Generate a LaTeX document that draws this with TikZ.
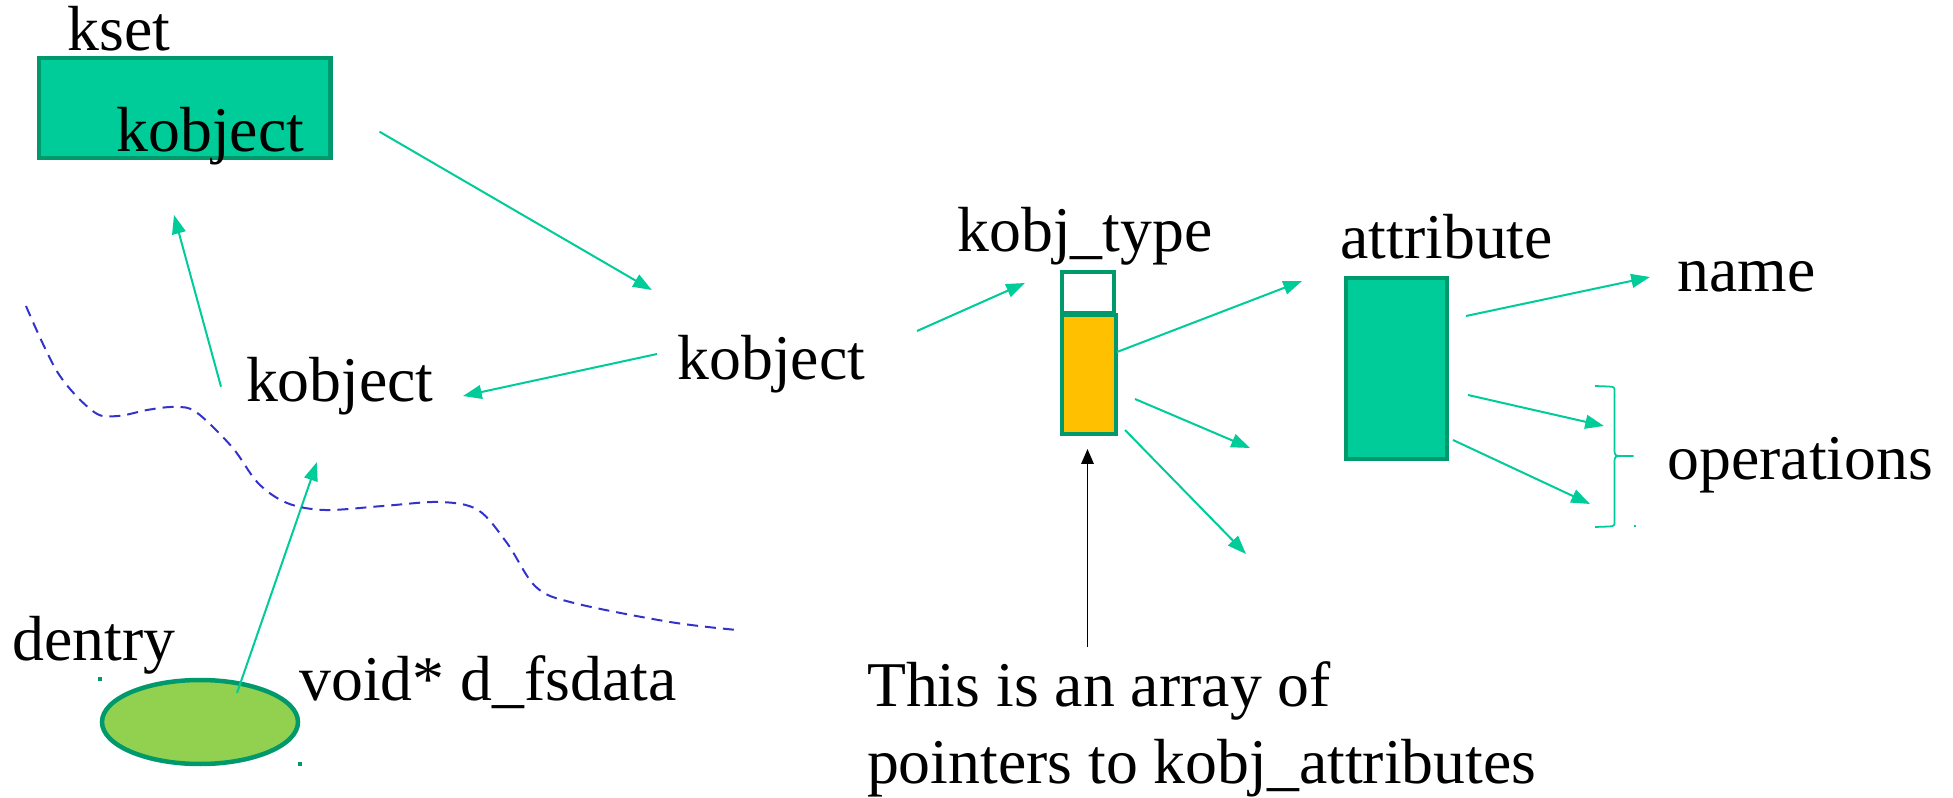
\documentclass[tikz,border=0pt]{standalone}
\usepackage{fontspec}
\setmainfont{Liberation Serif}
\newfontfamily\diagfont{Liberation Serif}
\usetikzlibrary{arrows.meta,shapes.geometric}
\definecolor{tealfill}{RGB}{0,204,153}
\definecolor{tealdark}{RGB}{0,153,108}
\definecolor{orangefill}{RGB}{255,192,0}
\definecolor{lgreen}{RGB}{146,208,80}
\definecolor{dashblue}{RGB}{51,51,204}
\begin{document}
\begin{tikzpicture}[x=0.4pt,y=-0.4pt,
  lbl/.style={anchor=base west,inner sep=0pt,font=\diagfont\fontsize{25.5}{30}\selectfont},
  ptr/.style={draw=tealfill,line width=0.8pt,-{Triangle[length=7.5pt,width=5.5pt]}},
  box/.style={draw=tealdark,line width=1.8pt,inner sep=0pt},
  dotmark/.style={fill=tealdark,inner sep=0pt,minimum size=1.6pt}]
\useasboundingbox (0,0) rectangle (1953,798);

% boxes
\node[box,fill=tealfill,minimum width=116.6pt,minimum height=40pt] (ksetbox) at (184.6,108) {};
\node[box,fill=white,line width=1.6pt,minimum width=20.8pt,minimum height=16.2pt] (typetop) at (1088,292.75) {};
\node[box,fill=orangefill,line width=1.6pt,minimum width=21.6pt,minimum height=47.6pt] (typearr) at (1089,374.5) {};
\node[box,fill=tealfill,minimum width=40.4pt,minimum height=72.4pt] (attrbox) at (1396.5,368.5) {};
\node[box,ellipse,fill=lgreen,minimum width=78.4pt,minimum height=33.6pt] (dentrybox) at (200,722) {};

% labels
\node[lbl] (kset) at (67,50.7) {kset};
\node[lbl] (kobjA) at (116,151.7) {kobject};
\node[lbl] (kobjL) at (245.5,401.7) {kobject};
\node[lbl] (kobjM) at (677,380) {kobject};
\node[lbl] (dentry) at (12,660) {dentry};
\node[lbl] (fsdata) at (299,700) {void* d\_fsdata};
\node[lbl] (kobjtype) at (957,251.7) {kobj\_type};
\node[lbl] (attribute) at (1340,259) {attribute};
\node[lbl] (name) at (1677,291.7) {name};
\node[lbl] (operations) at (1667,480) {operations};
\node[lbl] (note1) at (866.6,706.7) {This is an array of};
\node[lbl] (note2) at (866.6,783) {pointers to kobj\_attributes};

% small marks
\node[dotmark] (m1) at (100,679) {};
\node[dotmark] (m2) at (300,764) {};
\node[fill=tealfill,inner sep=0pt,minimum size=0.8pt] (m3) at (1634.6,526) {};

% connector end points
\coordinate (a1s) at (379.5,131.7); \coordinate (a1e) at (651.8,290);
\coordinate (a2s) at (657,354);     \coordinate (a2e) at (463,396);
\coordinate (a3s) at (221,386.7);   \coordinate (a3e) at (174,215);
\coordinate (a4s) at (237,693);     \coordinate (a4e) at (317,462);
\coordinate (a5s) at (917,331);     \coordinate (a5e) at (1025,283);
\coordinate (a6s) at (1117,352);    \coordinate (a6e) at (1302,281);
\coordinate (a7s) at (1135,399);    \coordinate (a7e) at (1250,448);
\coordinate (a8s) at (1125,430);    \coordinate (a8e) at (1246,554);
\coordinate (a9s) at (1466,316);    \coordinate (a9e) at (1650,277);
\coordinate (a10s) at (1468,395);   \coordinate (a10e) at (1604,426);
\coordinate (a11s) at (1453,440);   \coordinate (a11e) at (1590,504);
\coordinate (bks) at (1087.5,647);  \coordinate (bke) at (1087.5,449);

\draw[ptr] (a1s) -- (a1e);
\draw[ptr] (a2s) -- (a2e);
\draw[ptr] (a3s) -- (a3e);
\draw[ptr] (a4s) -- (a4e);
\draw[ptr] (a5s) -- (a5e);
\draw[ptr] (a6s) -- (a6e);
\draw[ptr] (a7s) -- (a7e);
\draw[ptr] (a8s) -- (a8e);
\draw[ptr] (a9s) -- (a9e);
\draw[ptr] (a10s) -- (a10e);
\draw[ptr] (a11s) -- (a11e);
\draw[black,line width=0.7pt,-{Triangle[length=6pt,width=5pt]}] (bks) -- (bke);

% brace
\draw[tealfill,line width=0.7pt]
  (1595,386) -- (1609,386.5) .. controls (1614.5,387) .. (1614.5,392)
  -- (1614.5,451) .. controls (1614.5,455.5) and (1616,456) .. (1621,456) -- (1633.5,456)
  (1621,456) .. controls (1616,456) and (1614.5,456.5) .. (1614.5,461)
  -- (1614.5,521) .. controls (1614.5,526) .. (1609,526.5) -- (1595,527);

% dashed boundary
\draw[dashblue,line width=0.8pt,dash pattern=on 4.4pt off 2.8pt]
  plot[smooth,tension=0.55] coordinates {(26,306) (58,373) (94,412) (118,416) (147,410) (174,407) (196,412) (232,447) (258,483) (287,503) (325,510) (383,506) (440,502) (478,510) (507,543) (536,587) (574,603) (670,622) (737,630)};
\end{tikzpicture}
\end{document}
